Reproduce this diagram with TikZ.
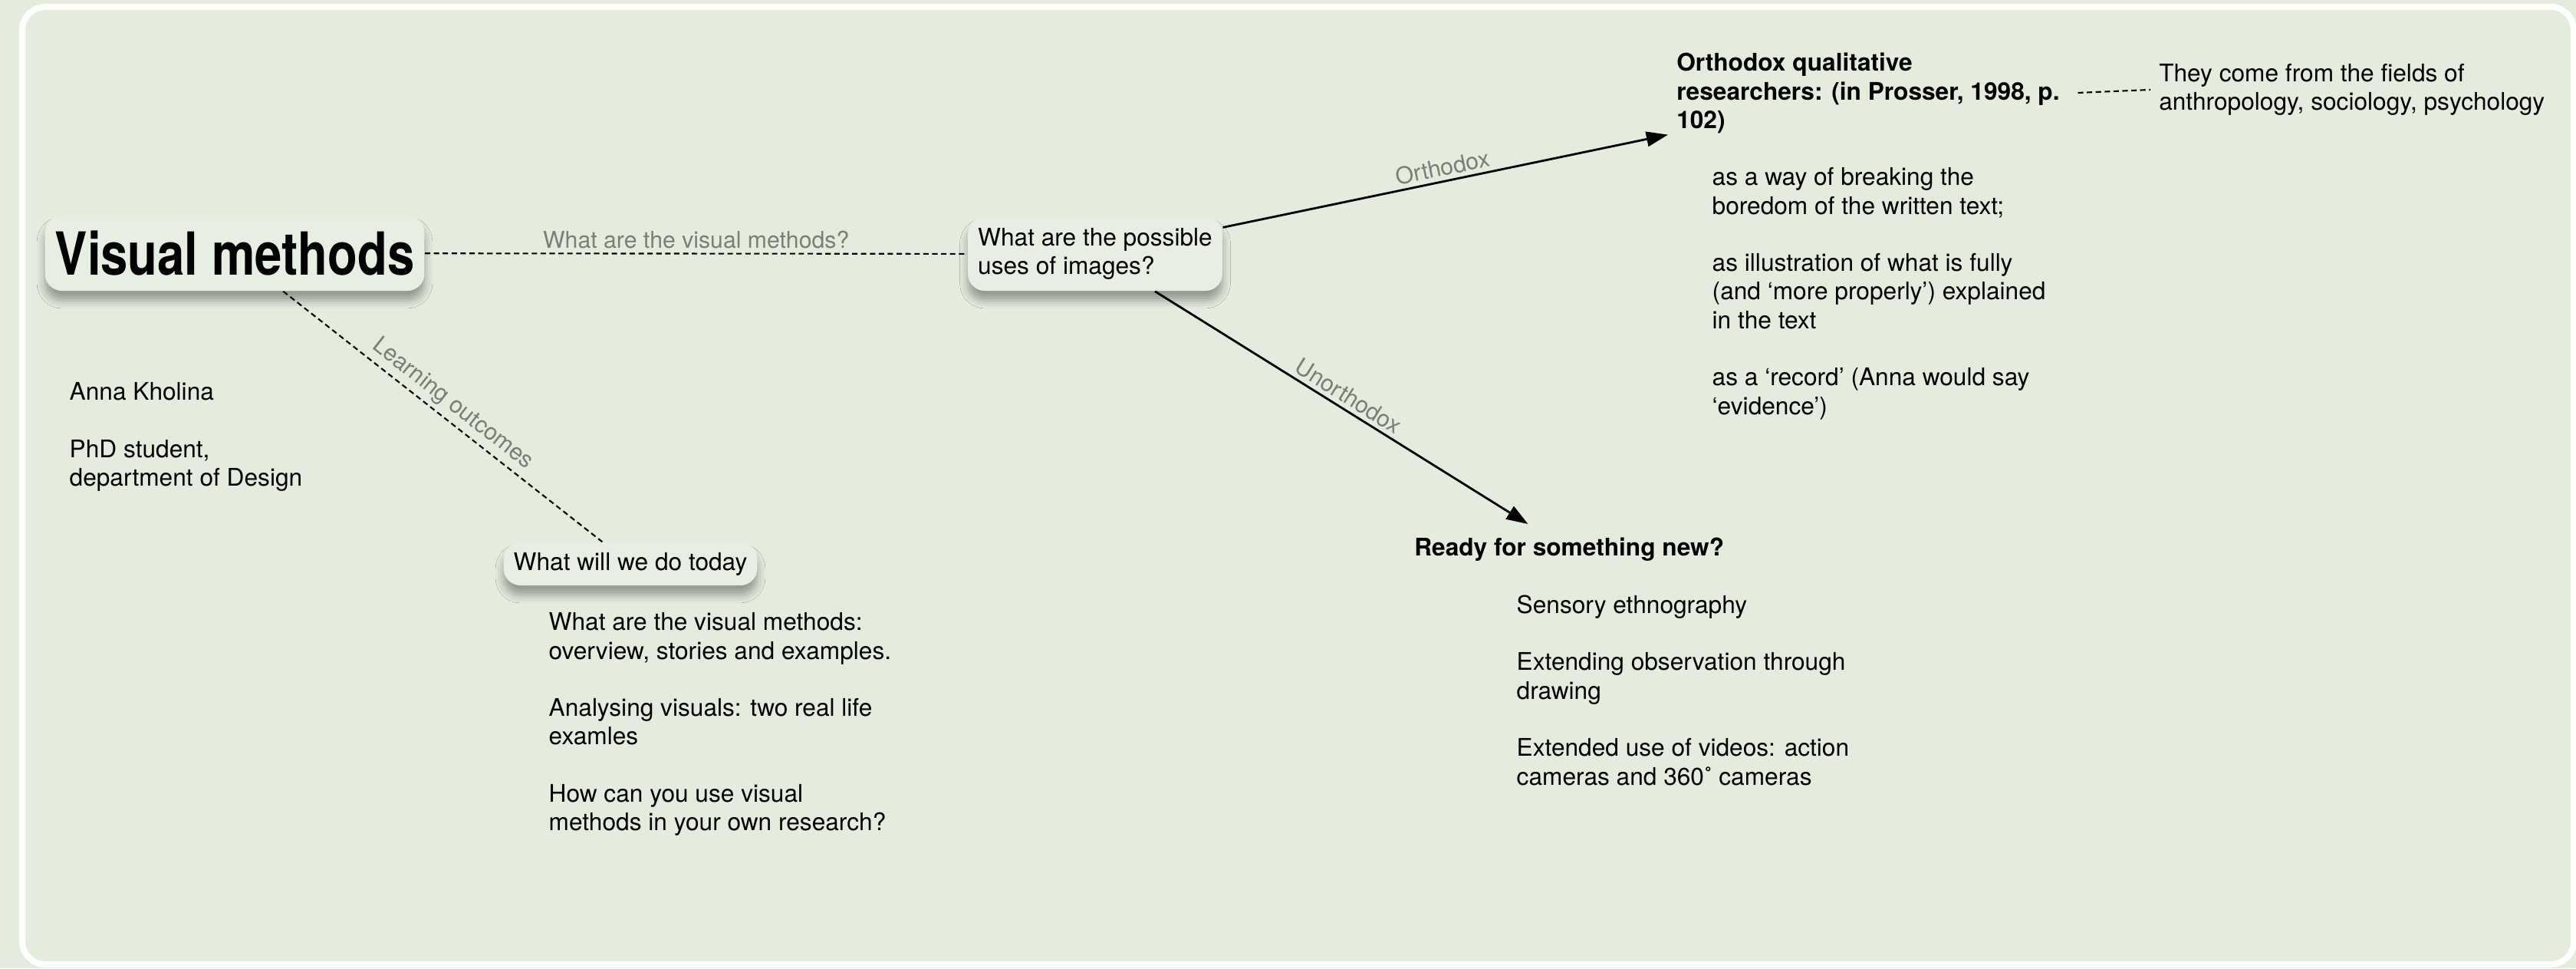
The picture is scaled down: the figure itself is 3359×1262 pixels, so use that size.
\documentclass[tikz,border=0pt]{standalone}
\usepackage{fontspec}
\setmainfont{TeX Gyre Heros}
\newfontfamily\condfont[FakeStretch=0.82]{TeX Gyre Heros}
\usetikzlibrary{arrows.meta,positioning,shadows.blur}
\definecolor{mapbg}{HTML}{E4ECDE}
\definecolor{boxfill}{HTML}{E7EFE2}
\definecolor{lblgray}{HTML}{7A8076}

\begin{document}
\begin{tikzpicture}[x=0.01cm,y=-0.01cm,>={Triangle[length=8pt,width=5.5pt]},line join=round]
  \tikzstyle{topic}=[draw=none,fill=boxfill,rounded corners=0.22cm,inner xsep=3.7pt,align=left,
    blur shadow={shadow xshift=0pt,shadow yshift=-3.5pt,shadow blur radius=3pt,shadow opacity=35},
    font=\fontsize{9}{10.6}\selectfont]
  \tikzstyle{notes}=[inner sep=0pt,anchor=north west,align=left,font=\fontsize{9}{10.6}\selectfont]
  \tikzstyle{head}=[notes,inner sep=3pt,font=\fontsize{9}{10.6}\selectfont\bfseries]
  \tikzstyle{dashlink}=[draw=black,line width=0.6pt,dash pattern=on 2pt off 1.3pt]
  \tikzstyle{arrlink}=[draw=black,line width=0.8pt,->]
  \tikzstyle{lbl}=[text=lblgray,font=\fontsize{8.6}{10}\selectfont,inner sep=1.5pt,above]

  % canvas and white frame
  \useasboundingbox (0,0) rectangle (3359,1262);
  \fill[mapbg] (0,0) rectangle (3359,1262);
  \draw[white,line width=0.08cm,rounded corners=0.3cm] (29,9) rectangle (3356,1257);

  % boxed topics
  \node[topic,minimum height=0.98cm,font=\condfont\fontsize{22}{26}\selectfont\bfseries] (vm) at (306,330) {Visual methods};
  \node[topic,minimum height=0.96cm] (uses) at (1428,331) {What are the possible\\uses of images?};
  \node[topic,minimum height=0.56cm] (today) at (822,735) {What will we do today};

  % plain notes
  \node[notes] (author) at (90,498) {Anna Kholina\\[10.6pt]PhD student,\\department of Design};
  \node[notes] (plan) at (715,798) {What are the visual methods:\\overview, stories and examples.\\[10.6pt]Analysing visuals: two real life\\examles\\[10.6pt]How can you use visual\\methods in your own research?};
  \node[head] (orth) at (2175,58) {Orthodox qualitative\\researchers: (in Prosser, 1998, p.\\102)};
  \node[notes] (oldways) at (2232,218) {as a way of breaking the\\boredom of the written text;\\[10.6pt]as illustration of what is fully\\(and ‘more properly’) explained\\in the text\\[10.6pt]as a ‘record’ (Anna would say\\‘evidence’)};
  \node[notes,inner sep=3pt] (fields) at (2804,72) {They come from the fields of\\anthropology, sociology, psychology};
  \node[head,inner sep=5pt] (ready) at (1826,683) {Ready for something new?};
  \node[notes] (newways) at (1977,775) {Sensory ethnography\\[10.6pt]Extending observation through\\drawing\\[10.6pt]Extended use of videos: action\\cameras and 360˚ cameras};

  \path (vm)   edge[dashlink] node[lbl]        {What are the visual methods?} (uses)
        (vm)   edge[dashlink] node[lbl,sloped] {Learning outcomes} (today)
        (uses) edge[arrlink]  node[lbl,sloped] {Orthodox} (orth)
        (uses) edge[arrlink]  node[lbl,sloped] {Unorthodox} (ready)
        (orth.east) edge[dashlink,shorten <=3.6pt] (fields.west);
\end{tikzpicture}
\end{document}
